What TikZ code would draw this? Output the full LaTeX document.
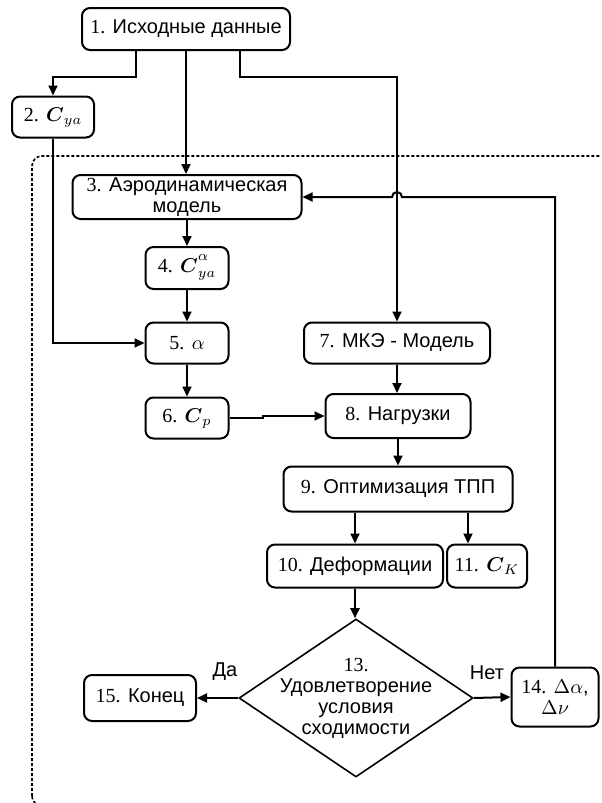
\documentclass[tikz,border=0pt]{standalone}
\usepackage{amsmath}
\usepackage{fontspec}
\setmainfont{Liberation Serif}
\setsansfont{Liberation Sans}
\usetikzlibrary{shapes.geometric, arrows.meta, positioning}

\begin{document}
\begin{tikzpicture}[x={(0.5pt,0)}, y={(0,-0.5pt)},
  font=\sffamily\fontsize{10}{10.5}\selectfont,
  box/.style={draw, rounded corners=4pt, line width=1pt, inner sep=1pt, align=center},
  decision/.style={draw, diamond, line width=0.8pt, inner sep=0pt, minimum width=117pt, minimum height=79pt},
  arr/.style={-{Triangle[length=5pt,width=4.5pt]}, line width=1pt},
  frame/.style={line width=0.8pt, dash pattern=on 1.5pt off 1pt, rounded corners=5pt}]
\useasboundingbox (0,0) rectangle (601,803);

\begin{scope}
\clip (0,0) rectangle (601,803);
\draw[frame] (32,806) rectangle (640,156);
\end{scope}

\node[box, minimum width=104pt, minimum height=21pt] (n1) at (186,29) {{\rmfamily 1.} Исходные данные};
\node[box, minimum width=41pt, minimum height=20.5pt] (n2) at (53,117) {{\rmfamily 2.} $\boldsymbol{C}_{ya}$};
\node[box, minimum width=114.5pt, minimum height=22pt] (n3) at (187,197) {{\rmfamily 3.} Аэродинамическая\\модель};
\node[box, minimum width=41.5pt, minimum height=21pt] (n4) at (187,268) {{\rmfamily 4.} $\boldsymbol{C}^{\raisebox{1.5pt}{$\scriptstyle\alpha$}}_{\mathstrut ya}$};
\node[box, minimum width=41.5pt, minimum height=20.5pt] (n5) at (187,343) {{\rmfamily 5.} $\alpha$};
\node[box, minimum width=41.5pt, minimum height=20.5pt] (n6) at (187,418) {{\rmfamily 6.} $\boldsymbol{C}_{p}$};
\node[box, minimum width=93pt, minimum height=20.5pt] (n7) at (397,343) {{\rmfamily 7.} МКЭ - Модель};
\node[box, minimum width=72.5pt, minimum height=22pt] (n8) at (398,416) {{\rmfamily 8.} Нагрузки};
\node[box, minimum width=114.5pt, minimum height=22.5pt] (n9) at (398,489) {{\rmfamily 9.} Оптимизация ТПП};
\node[box, minimum width=88pt, minimum height=21.5pt] (n10) at (355,566) {{\rmfamily 10.} Деформации};
\node[box, minimum width=40pt, minimum height=21.5pt] (n11) at (487,566) {{\rmfamily 11.} $\boldsymbol{C}_{K}$};
\node[decision] (n13) at (356,698) {};
\node[align=center] (n13t) at (n13.center) {{\rmfamily 13.}\\Удовлетворение\\условия\\сходимости};
\node[box, minimum width=43.5pt, minimum height=29.5pt] (n14) at (555,697) {{\rmfamily 14.} $\Delta\alpha$,\\$\Delta\nu$};
\node[box, minimum width=56pt, minimum height=23pt] (n15) at (140,698) {{\rmfamily 15.} Конец};
\node (da) at (225,672) {Да};
\node (net) at (487,673) {Нет};

\draw[arr] (n1.south) ++(-50,0) -- ++(0,26) -| (n2.north);
\draw[arr] (n1.south) -- (n1.south |- n3.north);
\draw[arr] (n1.south) ++(54,0) -- ++(0,26) -| (n7.north);
\draw[arr] (n14.north) |- ([xshift=2.5pt]n7.north |- n3.east) arc (0:180:2.5pt) -- (n3.east);
\draw[arr] (n2.south) |- (n5.west);
\draw[arr] (n3.south -| n4.north) -- (n4.north);
\draw[arr] (n4) -- (n5);
\draw[arr] (n5) -- (n6);
\draw[arr] (n6.east) -- ++(33,0) |- (n8.west);
\draw[arr] (n7.south) -- (n7.south |- n8.north);
\draw[arr] (n8) -- (n9);
\draw[arr] (n10.north |- n9.south) -- (n10.north);
\draw[arr] ([xshift=-9.5pt]n11.north |- n9.south) -- ([xshift=-9.5pt]n11.north);
\draw[arr] (n10.south) -- (n10.south |- n13.north);
\draw[arr] (n13.west) -- (n15.east);
\draw[arr] (n13.east) -- (n14.west);
\end{tikzpicture}
\end{document}
